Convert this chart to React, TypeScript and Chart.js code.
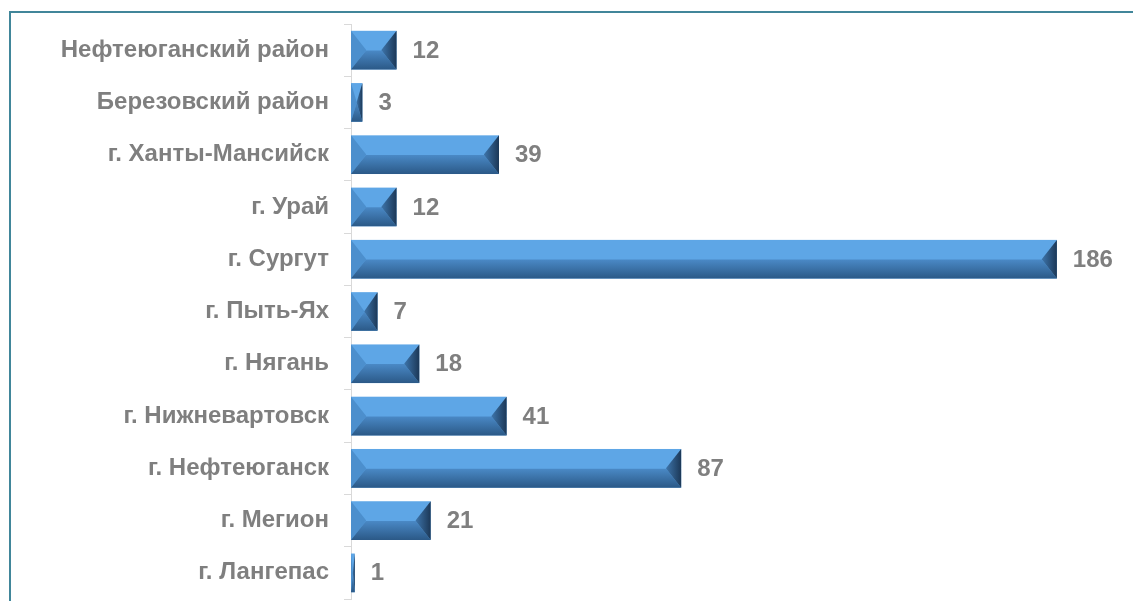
import React, { useEffect, useRef } from "react";
import { Chart, registerables } from "chart.js";

Chart.register(...registerables);

const categories = [
  "Нефтеюганский район",
  "Березовский район",
  "г. Ханты-Мансийск",
  "г. Урай",
  "г. Сургут",
  "г. Пыть-Ях",
  "г. Нягань",
  "г. Нижневартовск",
  "г. Нефтеюганск",
  "г. Мегион",
  "г. Лангепас",
];
const values = [12, 3, 39, 12, 186, 7, 18, 41, 87, 21, 1];

const TEXT_GRAY = "#7f7f7f";
const FONT_FAMILY = "'Liberation Sans', Arial, sans-serif";

const bevelPlugin = {
  id: "bevelBars",
  afterDatasetsDraw(chart: any) {
    const ctx = chart.ctx;
    const meta = chart.getDatasetMeta(0);
    ctx.save();
    meta.data.forEach((bar: any, i: number) => {
      const p = bar.getProps(["x", "y", "base", "height"], true);
      const x0 = Math.min(p.base, p.x);
      const x1 = Math.max(p.base, p.x);
      const y0 = p.y - p.height / 2;
      const y1 = p.y + p.height / 2;
      const w = x1 - x0;
      const h = y1 - y0;
      const b = Math.min(15, w / 2);
      const bv = Math.min(19, h / 2);
      ctx.fillStyle = "#5ea6e6";
      ctx.fillRect(x0, y0, w, h);
      ctx.beginPath();
      ctx.moveTo(x0, y0);
      ctx.lineTo(x0 + b, y0 + bv);
      ctx.lineTo(x0 + b, y1 - bv);
      ctx.lineTo(x0, y1);
      ctx.closePath();
      ctx.fillStyle = "#4c8fcd";
      ctx.fill();
      ctx.beginPath();
      ctx.moveTo(x0, y1);
      ctx.lineTo(x0 + b, y1 - bv);
      ctx.lineTo(x1 - b, y1 - bv);
      ctx.lineTo(x1, y1);
      ctx.closePath();
      const gb = ctx.createLinearGradient(0, y1 - bv, 0, y1);
      gb.addColorStop(0, "#4a89c6");
      gb.addColorStop(1, "#2b5987");
      ctx.fillStyle = gb;
      ctx.fill();
      ctx.beginPath();
      ctx.moveTo(x1, y0);
      ctx.lineTo(x1, y1);
      ctx.lineTo(x1 - b, y1 - bv);
      ctx.lineTo(x1 - b, y0 + bv);
      ctx.closePath();
      const gr = ctx.createLinearGradient(x1 - b, 0, x1, 0);
      gr.addColorStop(0, "#3d74aa");
      gr.addColorStop(1, "#1c3857");
      ctx.fillStyle = gr;
      ctx.fill();
      ctx.fillStyle = TEXT_GRAY;
      ctx.font = `bold 24px ${FONT_FAMILY}`;
      ctx.textAlign = "left";
      ctx.textBaseline = "middle";
      ctx.fillText(String(values[i]), x1 + 16, p.y + 1);
    });
    ctx.restore();
  },
};

export default function App() {
  const canvasRef = useRef<HTMLCanvasElement | null>(null);

  useEffect(() => {
    const canvas = canvasRef.current;
    if (!canvas) return;
    const chart = new Chart(canvas, {
      type: "bar",
      data: {
        labels: categories,
        datasets: [
          {
            data: values,
            backgroundColor: "rgba(0,0,0,0)",
            borderWidth: 0,
            categoryPercentage: 1,
            barPercentage: 0.74,
          },
        ],
      },
      options: {
        indexAxis: "y",
        animation: false,
        responsive: false,
        maintainAspectRatio: false,
        layout: { padding: { top: 24, bottom: 2, right: 23, left: 0 } },
        plugins: {
          legend: { display: false },
          tooltip: { enabled: false },
          title: { display: false },
        },
        scales: {
          x: {
            display: false,
            min: 0,
            max: 200,
          },
          y: {
            afterFit(scale: any) {
              scale.width = 351;
              scale.paddingTop = 0;
              scale.paddingBottom = 0;
            },
            border: { display: true, color: "#d9d9d9", width: 1 },
            grid: {
              display: true,
              offset: true,
              drawOnChartArea: false,
              drawTicks: true,
              tickLength: 7,
              color: "#d9d9d9",
            },
            ticks: {
              color: TEXT_GRAY,
              padding: 15,
              font: { family: FONT_FAMILY, size: 24, weight: "bold" },
            },
          },
        },
      },
      plugins: [bevelPlugin],
    });
    return () => chart.destroy();
  }, []);

  return (
    <>
      <div
        style={{
          position: "fixed",
          left: 0,
          top: 0,
          width: 1133,
          height: 601,
          background: "#ffffff",
        }}
      >
        <canvas ref={canvasRef} width={1133} height={601} style={{ display: "block" }} />
      </div>
      <div
        style={{
          position: "fixed",
          left: 9,
          top: 11,
          width: 1300,
          height: 800,
          borderTop: "2px solid #41869a",
          borderLeft: "2px solid #41869a",
          pointerEvents: "none",
        }}
      />
    </>
  );
}
